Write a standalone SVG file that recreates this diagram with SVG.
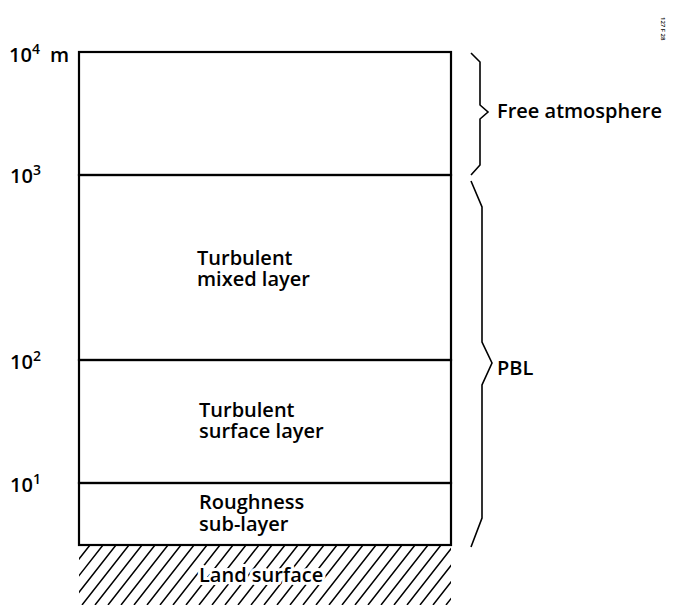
<svg xmlns="http://www.w3.org/2000/svg" width="684" height="605" viewBox="0 0 684 605">
<style>
text{font-family:"Open Sans","Liberation Sans",sans-serif;fill:#000;font-weight:600}
.lbl{font-size:20px}
.ax{font-size:20px}
.sup{font-size:14px}
.ln{stroke:#000;stroke-width:2.2;fill:none}
.br{stroke:#000;stroke-width:1.6;fill:none;stroke-linejoin:miter}
.hatch{stroke:#000;stroke-width:1.5;fill:none}
.halo{stroke:#fff;stroke-width:6;paint-order:stroke;stroke-linejoin:round}
</style>
<defs>
<clipPath id="groundClip"><rect x="79" y="545" width="372" height="60"/></clipPath>
</defs>
<rect width="684" height="605" fill="#fff"/>

<g id="ground">
<path class="hatch" clip-path="url(#groundClip)" d="M30 605l47 -60M43 605l47 -60M56 605l47 -60M69 605l47 -60M82 605l47 -60M95 605l47 -60M108 605l47 -60M121 605l47 -60M134 605l47 -60M147 605l47 -60M160 605l47 -60M173 605l47 -60M186 605l47 -60M199 605l47 -60M212 605l47 -60M225 605l47 -60M238 605l47 -60M251 605l47 -60M264 605l47 -60M277 605l47 -60M290 605l47 -60M303 605l47 -60M316 605l47 -60M329 605l47 -60M342 605l47 -60M355 605l47 -60M368 605l47 -60M381 605l47 -60M394 605l47 -60M407 605l47 -60M420 605l47 -60M433 605l47 -60M446 605l47 -60"/>
<text class="lbl halo" x="199" y="582">Land surface</text>
</g>

<g id="free-atmosphere">
<rect class="ln" x="79" y="52" width="372" height="123"/>
</g>
<g id="mixed-layer">
<rect class="ln" x="79" y="175" width="372" height="185"/>
<text class="lbl" x="197" y="265">Turbulent<tspan x="197" dy="21">mixed layer</tspan></text>
</g>
<g id="surface-layer">
<rect class="ln" x="79" y="360" width="372" height="123"/>
<text class="lbl" x="199" y="417">Turbulent<tspan x="199" dy="21">surface layer</tspan></text>
</g>
<g id="roughness-sublayer">
<rect class="ln" x="79" y="483" width="372" height="62"/>
<text class="lbl" x="199" y="509">Roughness<tspan x="199" dy="22">sub-layer</tspan></text>
</g>

<g id="axis">
<text class="ax" x="9" y="62">10<tspan class="sup" dy="-8">4</tspan></text>
<text class="ax" x="50" y="62">m</text>
<text class="ax" x="10" y="183">10<tspan class="sup" dy="-8">3</tspan></text>
<text class="ax" x="10" y="369">10<tspan class="sup" dy="-8">2</tspan></text>
<text class="ax" x="10" y="492">10<tspan class="sup" dy="-8">1</tspan></text>
</g>

<g id="connectors">
<polyline class="br" points="471,53 480,62 480,105 488,112 480,119 480,165 471,175"/>
<polyline class="br" points="471,181 482,207 482,342 492,363 482,385 482,518 471,547"/>
</g>

<g id="brace-labels">
<text class="lbl" x="497" y="118">Free atmosphere</text>
<text class="lbl" x="497" y="375">PBL</text>
</g>

<text x="661" y="17" font-size="6" transform="rotate(90 661 17)">127 F 28</text>
</svg>
